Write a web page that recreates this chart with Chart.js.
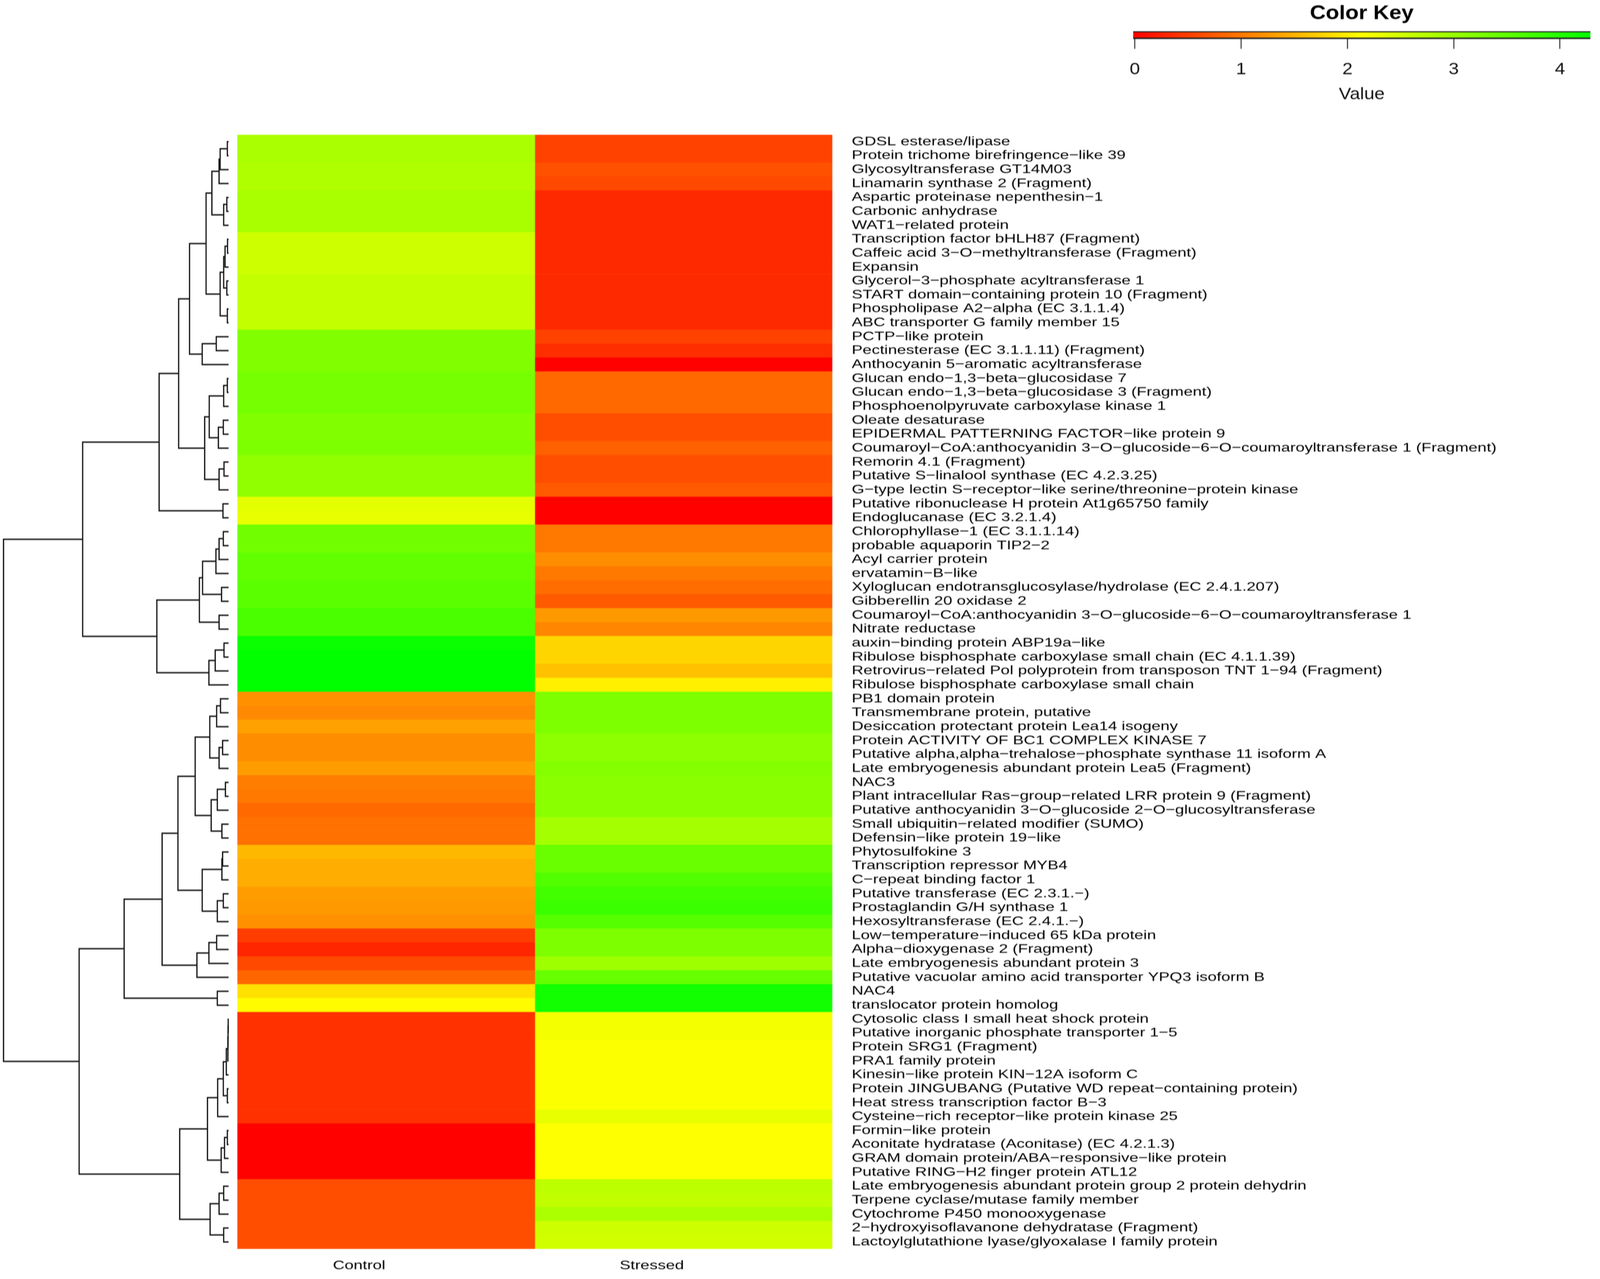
<!DOCTYPE html>
<html><head><meta charset="utf-8">
<style>
html,body{margin:0;padding:0;background:#fff;overflow:hidden}
#stage{position:absolute;left:0;top:0;width:4550px;height:3274px;transform-origin:0 0;filter:blur(0.8px)}
canvas{position:absolute;display:block}
</style>
<script src="https://cdn.jsdelivr.net/npm/chart.js@4"></script>
</head><body>
<div id="stage">
<canvas id="dendro" width="655" height="3274" style="left:0;top:0"></canvas>
<canvas id="heat" width="2676" height="2974" style="left:675px;top:300px;transform-origin:0 0;transform:scaleX(1.448)"></canvas>
<canvas id="key" width="1160" height="268" style="left:3100px;top:0;transform-origin:0 0;transform:scaleX(1.25)"></canvas>
</div>
<script>
const proteins = [
"GDSL esterase/lipase","Protein trichome birefringence−like 39","Glycosyltransferase GT14M03","Linamarin synthase 2 (Fragment)",
"Aspartic proteinase nepenthesin−1","Carbonic anhydrase","WAT1−related protein","Transcription factor bHLH87 (Fragment)",
"Caffeic acid 3−O−methyltransferase (Fragment)","Expansin","Glycerol−3−phosphate acyltransferase 1","START domain−containing protein 10 (Fragment)",
"Phospholipase A2−alpha (EC 3.1.1.4)","ABC transporter G family member 15","PCTP−like protein","Pectinesterase (EC 3.1.1.11) (Fragment)",
"Anthocyanin 5−aromatic acyltransferase","Glucan endo−1,3−beta−glucosidase 7","Glucan endo−1,3−beta−glucosidase 3 (Fragment)","Phosphoenolpyruvate carboxylase kinase 1",
"Oleate desaturase","EPIDERMAL PATTERNING FACTOR−like protein 9","Coumaroyl−CoA:anthocyanidin 3−O−glucoside−6−O−coumaroyltransferase 1 (Fragment)","Remorin 4.1 (Fragment)",
"Putative S−linalool synthase (EC 4.2.3.25)","G−type lectin S−receptor−like serine/threonine−protein kinase","Putative ribonuclease H protein At1g65750 family","Endoglucanase (EC 3.2.1.4)",
"Chlorophyllase−1 (EC 3.1.1.14)","probable aquaporin TIP2−2","Acyl carrier protein","ervatamin−B−like",
"Xyloglucan endotransglucosylase/hydrolase (EC 2.4.1.207)","Gibberellin 20 oxidase 2","Coumaroyl−CoA:anthocyanidin 3−O−glucoside−6−O−coumaroyltransferase 1","Nitrate reductase",
"auxin−binding protein ABP19a−like","Ribulose bisphosphate carboxylase small chain (EC 4.1.1.39)","Retrovirus−related Pol polyprotein from transposon TNT 1−94 (Fragment)","Ribulose bisphosphate carboxylase small chain",
"PB1 domain protein","Transmembrane protein, putative","Desiccation protectant protein Lea14 isogeny","Protein ACTIVITY OF BC1 COMPLEX KINASE 7",
"Putative alpha,alpha−trehalose−phosphate synthase 11 isoform A","Late embryogenesis abundant protein Lea5 (Fragment)","NAC3","Plant intracellular Ras−group−related LRR protein 9 (Fragment)",
"Putative anthocyanidin 3−O−glucoside 2−O−glucosyltransferase","Small ubiquitin−related modifier (SUMO)","Defensin−like protein 19−like","Phytosulfokine 3",
"Transcription repressor MYB4","C−repeat binding factor 1","Putative transferase (EC 2.3.1.−)","Prostaglandin G/H synthase 1",
"Hexosyltransferase (EC 2.4.1.−)","Low−temperature−induced 65 kDa protein","Alpha−dioxygenase 2 (Fragment)","Late embryogenesis abundant protein 3",
"Putative vacuolar amino acid transporter YPQ3 isoform B","NAC4","translocator protein homolog","Cytosolic class I small heat shock protein",
"Putative inorganic phosphate transporter 1−5","Protein SRG1 (Fragment)","PRA1 family protein","Kinesin−like protein KIN−12A isoform C",
"Protein JINGUBANG (Putative WD repeat−containing protein)","Heat stress transcription factor B−3","Cysteine−rich receptor−like protein kinase 25","Formin−like protein",
"Aconitate hydratase (Aconitase) (EC 4.2.1.3)","GRAM domain protein/ABA−responsive−like protein","Putative RING−H2 finger protein ATL12","Late embryogenesis abundant protein group 2 protein dehydrin",
"Terpene cyclase/mutase family member","Cytochrome P450 monooxygenase","2−hydroxyisoflavanone dehydratase (Fragment)","Lactoylglutathione lyase/glyoxalase I family protein"];

const columns = ["Control","Stressed"];

const controlValues = [
2.85,2.85,2.80,2.80,2.86,2.86,2.86,2.56,2.56,2.56,2.63,2.63,2.63,2.63,3.20,3.20,3.20,3.29,3.29,3.29,
3.20,3.20,3.23,3.06,3.06,3.06,2.36,2.33,3.33,3.33,3.47,3.47,3.53,3.53,3.67,3.67,4.20,4.27,4.27,4.27,
1.21,1.14,1.34,1.17,1.17,1.31,1.04,1.00,0.87,0.94,0.94,1.54,1.44,1.44,1.31,1.27,1.21,0.50,0.30,0.60,
0.84,1.88,2.11,0.40,0.40,0.40,0.40,0.40,0.40,0.40,0.40,0,0,0,0,0.64,0.64,0.64,0.64,0.64];

const stressedValues = [
0.54,0.54,0.67,0.60,0.33,0.33,0.33,0.33,0.33,0.33,0.33,0.33,0.33,0.33,0.54,0.37,0,0.87,0.87,0.87,
0.64,0.64,0.80,0.64,0.64,0.74,0,0,1.00,1.00,1.17,1.00,0.90,0.74,1.27,1.11,1.78,1.78,1.61,2.01,
3.23,3.23,3.23,3.10,3.10,3.17,3.13,3.13,3.13,2.90,2.90,3.40,3.40,3.60,3.73,3.80,3.57,3.23,3.23,2.96,
3.43,4.14,4.14,2.23,2.23,2.16,2.16,2.16,2.16,2.16,2.33,2.14,2.14,2.14,2.14,2.70,2.66,2.84,2.56,2.53];

const keyTicks = [0,1,2,3,4];
const keyRange = [-0.017,4.287];
const columnTickValues = [0.409,1.393];

// Dendrogram as [merge height, upper child, lower child]; L is a leaf, leaves follow row order.
const L = 0;
const branchA = [47.5,[27,[24,[3.5,L,L],L],L],[14,[5,L,L],L]];
const branchB = [24,[14,[10,[3,L,L],L],[5,L,L]],[3.5,L,L]];
const branchC = [111,[64,branchA,branchB],[75,[35,L,L],L]];
const branchD = [68,[55,[14,[3.5,L,L],L],[29,[15,L,L],L]],[27,[13,L,L],L]];
const branchE = [197.5,[142,branchC,branchD],[16,L,L]];
const branchF = [204,[83,[74,[36,[27,[15,L,L],L],L],[20,L,L]],[27,L,L]],[56,[38,[13,L,L],L],L]];
const branchG = [189,[144,[95,[53.5,[34,[23,L,L],L],[27,[17,L,L],L]],[49.5,[32,[9,L,L],L],[19,L,L]]],[75,[19,[17,L,L],L],[32,[15,L,L],L]]],[90,[56,[34,L,L],L],L]];
const branchH = [60,[31,[15,[6.5,[2,[1.5,[1,L,L],L],L],L],[3.5,L,L]],L],[21,[11.5,[3.5,L,L],L],L]];
const branchI = [52.5,[27,[14,L,L],L],[14,L,L]];
const dendroRoot = [640,[415,branchE,branchF],[425,[297,branchG,[32,L,L]],[139,branchH,branchI]]];

// The browser window may be narrower than the 4550 px design width: fit the whole drawing to it.
document.getElementById('stage').style.transform = `scaleX(${window.innerWidth/4550})`;

function heatColor(v){
  const t = (v-keyRange[0])/(keyRange[1]-keyRange[0]);
  return t<0.5 ? `rgb(255,${Math.round(510*t)},0)` : `rgb(${Math.round(510*(1-t))},255,0)`;
}
const labelFont = {family:"'Liberation Sans'",size:32};
const common = {responsive:false,animation:false,devicePixelRatio:1,events:[]};
const quiet = {legend:{display:false},tooltip:{enabled:false},title:{display:false}};

/* ---------- dendrogram ---------- */
const dendroSets = [];
let leafCursor = 0;
function walk(node){
  if(node===L){ const y = leafCursor+0.5; leafCursor++; return {h:0,y}; }
  const a = walk(node[1]), b = walk(node[2]), h = node[0];
  dendroSets.push({data:[{x:a.h,y:a.y},{x:h,y:a.y},{x:h,y:b.y},{x:b.h,y:b.y}],
    showLine:true,borderColor:'#141414',borderWidth:3.5,pointRadius:0,clip:false,borderJoinStyle:'miter'});
  return {h,y:(a.y+b.y)/2};
}
walk(dendroRoot);
new Chart(document.getElementById('dendro'),{type:'scatter',data:{datasets:dendroSets},options:{...common,
  plugins:quiet,layout:{padding:{top:345,bottom:77,left:0,right:5}},
  scales:{x:{type:'linear',reverse:true,min:0,max:650,display:false},
          y:{type:'linear',reverse:true,min:0,max:proteins.length,display:false}}}});

/* ---------- heat map ---------- */
new Chart(document.getElementById('heat'),{type:'bar',data:{labels:proteins,datasets:[
  {label:columns[0],data:proteins.map(()=>[0,1]),backgroundColor:controlValues.map(heatColor),borderWidth:0,barPercentage:1,categoryPercentage:1,grouped:false},
  {label:columns[1],data:proteins.map(()=>[1,2]),backgroundColor:stressedValues.map(heatColor),borderWidth:0,barPercentage:1,categoryPercentage:1,grouped:false}
]},options:{...common,indexAxis:'y',plugins:quiet,
  layout:{padding:{top:45,left:0,right:0,bottom:0}},
  scales:{
    x:{type:'linear',min:0,max:2,position:'bottom',grid:{display:false,drawTicks:false},border:{display:false},
       afterBuildTicks:s=>{s.ticks=columnTickValues.map(value=>({value}));},
       afterFit:s=>{s.height=77;s.paddingLeft=0;s.paddingRight=0;},
       ticks:{autoSkip:false,maxRotation:0,padding:24,color:'#000',font:labelFont,
              callback:v=>columns[columnTickValues.indexOf(v)]}},
    y:{type:'category',position:'right',grid:{display:false,drawTicks:false},border:{display:false},
       afterFit:s=>{s.width=2676-1168.5;s.paddingTop=0;s.paddingBottom=0;},
       ticks:{autoSkip:false,padding:38,color:'#000',font:labelFont}}
  }}});

/* ---------- colour key ---------- */
new Chart(document.getElementById('key'),{type:'bar',data:{labels:['Value'],datasets:[{
  data:[keyRange],barPercentage:1,categoryPercentage:1,borderSkipped:false,
  borderColor:'#222',borderWidth:{top:3,bottom:4,left:0,right:0},
  backgroundColor:c=>{const a=c.chart.chartArea; if(!a) return '#ff0000';
    const g=c.chart.ctx.createLinearGradient(a.left,0,a.right,0);
    g.addColorStop(0,'#ff0000');g.addColorStop(.5,'#ffff00');g.addColorStop(1,'#00ff00');return g;}
}]},options:{...common,indexAxis:'y',
  layout:{padding:{left:97.6,right:21.6,top:0,bottom:0}},
  plugins:{legend:{display:false},tooltip:{enabled:false},
    title:{display:true,text:'Color Key',fullSize:false,color:'#000',padding:{top:5,bottom:15},
           font:{family:"'Liberation Sans'",size:50,weight:'bold'}}},
  scales:{
    x:{type:'linear',min:keyRange[0],max:keyRange[1],position:'bottom',
       grid:{drawOnChartArea:false,drawTicks:true,tickLength:25,tickWidth:2,tickColor:'#111'},border:{display:false},
       afterBuildTicks:s=>{s.ticks=keyTicks.map(value=>({value}));},
       afterFit:s=>{s.height=168;},
       title:{display:true,text:'Value',color:'#111',padding:{top:14,bottom:0},font:{family:"'Liberation Sans'",size:42}},
       ticks:{autoSkip:false,maxRotation:0,padding:28,color:'#111',font:{family:"'Liberation Sans'",size:42}}},
    y:{type:'category',display:false}
  }}});
</script>
</body></html>
